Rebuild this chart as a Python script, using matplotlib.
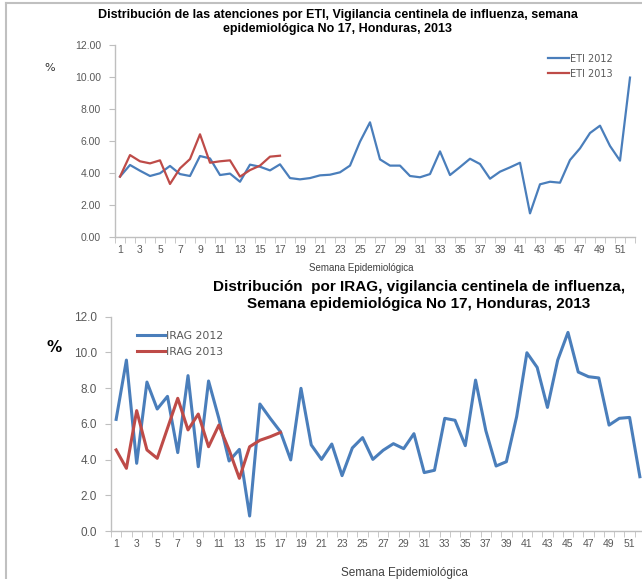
import matplotlib.pyplot as plt
from matplotlib.lines import Line2D
import numpy as np

weeks = np.arange(1, 53)

eti_2012 = [3.76, 4.49, 4.13, 3.80, 3.97, 4.43, 3.92, 3.80, 5.05, 4.90,
            3.86, 3.95, 3.44, 4.51, 4.38, 4.15, 4.53, 3.67, 3.59, 3.67,
            3.84, 3.88, 4.03, 4.45, 5.95, 7.16, 4.84, 4.45, 4.45, 3.80,
            3.72, 3.92, 5.34, 3.86, 4.36, 4.88, 4.55, 3.63, 4.07, 4.34,
            4.63, 1.46, 3.28, 3.44, 3.38, 4.80, 5.53, 6.49, 6.95, 5.68,
            4.76, 9.96]
eti_2013 = [3.76, 5.11, 4.72, 4.59, 4.78, 3.30, 4.28, 4.86, 6.41, 4.63,
            4.72, 4.78, 3.76, 4.17, 4.45, 5.01, 5.07]

irag_2012 = [6.25, 9.57, 3.79, 8.34, 6.83, 7.54, 4.39, 8.70, 3.60, 8.40,
             6.31, 3.92, 4.57, 0.84, 7.11, 6.31, 5.56, 3.98, 7.99, 4.82,
             4.01, 4.87, 3.10, 4.65, 5.23, 4.01, 4.52, 4.89, 4.61, 5.45,
             3.27, 3.40, 6.31, 6.20, 4.78, 8.45, 5.62, 3.64, 3.88, 6.40,
             9.98, 9.16, 6.92, 9.57, 11.12, 8.90, 8.64, 8.57, 5.93, 6.31,
             6.36, 3.04]
irag_2013 = [4.54, 3.51, 6.74, 4.54, 4.07, 5.75, 7.43, 5.66, 6.55, 4.72,
             5.93, 4.54, 2.95, 4.72, 5.08, 5.28, 5.52]

BLUE = '#4A7EBB'
RED = '#BE4B48'
W, H = 642, 579


def style_axis(ax, yfmt, ylim_top=12):
    ax.set_xlim(0.5, 52.5)
    ax.set_ylim(0, ylim_top)
    for s in ['top', 'right']:
        ax.spines[s].set_visible(False)
    for s in ['left', 'bottom']:
        ax.spines[s].set_color('#BFBFBF')
        ax.spines[s].set_linewidth(1)
    ax.set_xticks(np.arange(1, 53, 2))
    ax.set_xticks(np.arange(0.5, 53, 1), minor=True)
    ax.tick_params(axis='x', which='major', length=0, pad=6)
    ax.tick_params(axis='x', which='minor', length=4, color='#BFBFBF')
    ax.set_yticks(np.arange(0, ylim_top + 0.1, 2))
    ax.set_yticklabels([yfmt.format(v) for v in np.arange(0, ylim_top + 0.1, 2)])
    ax.tick_params(axis='y', length=4, color='#BFBFBF', pad=6)
    for lab in ax.get_xticklabels() + ax.get_yticklabels():
        lab.set_fontsize(7.5)
        lab.set_color('#595959')
        lab.set_family('Liberation Sans')


fig = plt.figure(figsize=(W / 100, H / 100), dpi=100)

# top chart: ETI
ax1 = fig.add_axes([115 / W, 1 - 236.7 / H, 520 / W, 191.7 / H])
ax1.plot(weeks, eti_2012, color=BLUE, lw=1.6, label='ETI 2012')
ax1.plot(weeks[:len(eti_2013)], eti_2013, color=RED, lw=1.6, label='ETI 2013')
style_axis(ax1, '{:.2f}')
ax1.legend(loc='upper left', bbox_to_anchor=(0.815, 1.0), frameon=False,
           fontsize=7, handlelength=2.2, handletextpad=0.1, labelspacing=0.5,
           labelcolor='#595959')

fig.text(338 / W, 1 - 22 / H,
         'Distribución de las atenciones por ETI, Vigilancia centinela de influenza, semana\n'
         'epidemiológica No 17, Honduras, 2013',
         ha='center', va='center', fontsize=9.0, fontweight='bold',
         family='Liberation Sans', linespacing=1.3)
fig.text(50 / W, 1 - 68 / H, '%', ha='center', va='center', fontsize=8, color='#333333')
fig.text(361 / W, 1 - 268 / H, 'Semana Epidemiológica', ha='center', va='center',
         fontsize=7, color='#404040', family='Liberation Sans')

# bottom chart: IRAG
ax2 = fig.add_axes([111 / W, 1 - 531 / H, 534 / W, 214.3 / H])
ax2.plot(weeks, irag_2012, color=BLUE, lw=2.2, label='IRAG 2012')
ax2.plot(weeks[:len(irag_2013)], irag_2013, color=RED, lw=2.2, label='IRAG 2013')
style_axis(ax2, '{:.1f}')
for lab in ax2.get_yticklabels():
    lab.set_fontsize(8.5)
ax2.legend(loc='upper left', bbox_to_anchor=(0.03, 0.98), frameon=False,
           fontsize=7.8, handlelength=2.6, handletextpad=0.1, labelspacing=0.6,
           labelcolor='#595959')

fig.text(419 / W, 1 - 295.5 / H,
         'Distribución  por IRAG, vigilancia centinela de influenza,\n'
         'Semana epidemiológica No 17, Honduras, 2013',
         ha='center', va='center', fontsize=11.0, fontweight='bold',
         family='Liberation Sans', linespacing=1.2)
fig.text(54 / W, 1 - 347 / H, '%', ha='center', va='center', fontsize=11,
         fontweight='bold')
fig.text(404 / W, 1 - 573 / H, 'Semana Epidemiológica', ha='center', va='center',
         fontsize=8.5, color='#404040', family='Liberation Sans')

# frame lines of the screenshot
fig.add_artist(Line2D([6 / W, 6 / W], [0, 1 - 3 / H], color='#C0C0C0', lw=1.5))
fig.add_artist(Line2D([6 / W, 1], [1 - 3 / H, 1 - 3 / H], color='#C0C0C0', lw=1.5))

fig.savefig('out.png', dpi=100)
